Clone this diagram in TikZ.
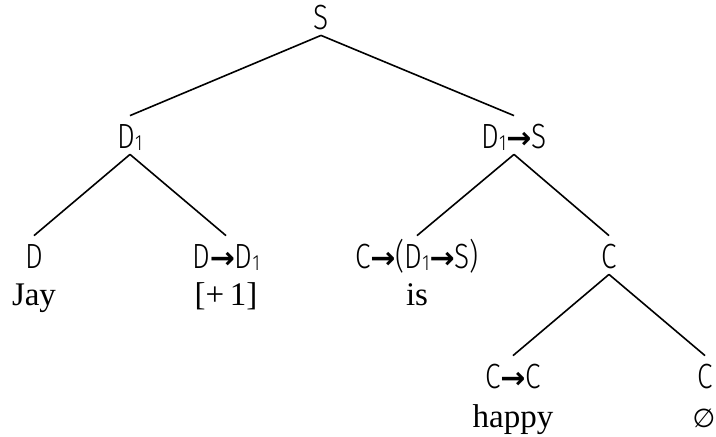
\documentclass[tikz,border=0pt]{standalone}
\usepackage{fontspec}
\setmainfont{Liberation Serif}
\setsansfont[FakeStretch=0.8]{Fira Sans Light}
\newfontfamily\arrowfont{DejaVu Sans}
\usepackage{tikz}
\newcommand{\fto}{{\arrowfont\bfseries\fontsize{15}{15}\selectfont →}}
\newcommand{\lvl}[1]{\raisebox{-1pt}{\fontsize{11}{11}\selectfont #1}}

\begin{document}
\begin{tikzpicture}[
  x=0.5pt, y=-0.5pt,
  cat/.style={anchor=base, font=\sffamily\fontsize{17.5}{18}\selectfont,
    inner xsep=0pt, inner ysep=3pt, text height=13pt, text depth=0pt},
  word/.style={anchor=base, font=\fontsize{16.5}{17}\selectfont, inner sep=0pt},
  branch/.style={line width=0.8pt},
]
  \useasboundingbox (0,0) rectangle (716,436);

  % Categories — one row per level
  \node[cat] (S)     at (321,29)  {S};
  \node[cat] (D1)    at (130,148) {D\lvl{1}};
  \node[cat] (D1toS) at (514,148) {D\lvl{1}\fto S};
  \node[cat] (D)     at (34,268)  {D};
  \node[cat] (DtoD1) at (226,268) {D\fto D\lvl{1}};
  \node[cat] (CtoV)  at (417,268) {C\fto(D\lvl{1}\fto S)};
  \node[cat] (C)     at (609,268) {C};
  \node[cat] (CtoC)  at (513,388) {C\fto C};
  \node[cat] (Cnull) at (705,388) {C};

  % Words under the leaves
  \node[word] (jay)   at (34,305)  {Jay};
  \node[word] (plus)  at (226,305) {[+\,1]};
  \node[word] (is)    at (417,305) {is};
  \node[word] (happy) at (513,427) {happy};
  \node[word] (empty) at (704,427) {\arrowfont\fontsize{13}{13}\selectfont ∅};

  % Branches
  \draw[branch] (S.south) -- (D1.north);
  \draw[branch] (S.south) -- (D1toS.north);
  \draw[branch] (D1.south) -- (D.north);
  \draw[branch] (D1.south) -- (DtoD1.north);
  \draw[branch] (D1toS.south) -- (CtoV.north);
  \draw[branch] (D1toS.south) -- (C.north);
  \draw[branch] (C.south) -- (CtoC.north);
  \draw[branch] (C.south) -- (Cnull.north);

\end{tikzpicture}
\end{document}
